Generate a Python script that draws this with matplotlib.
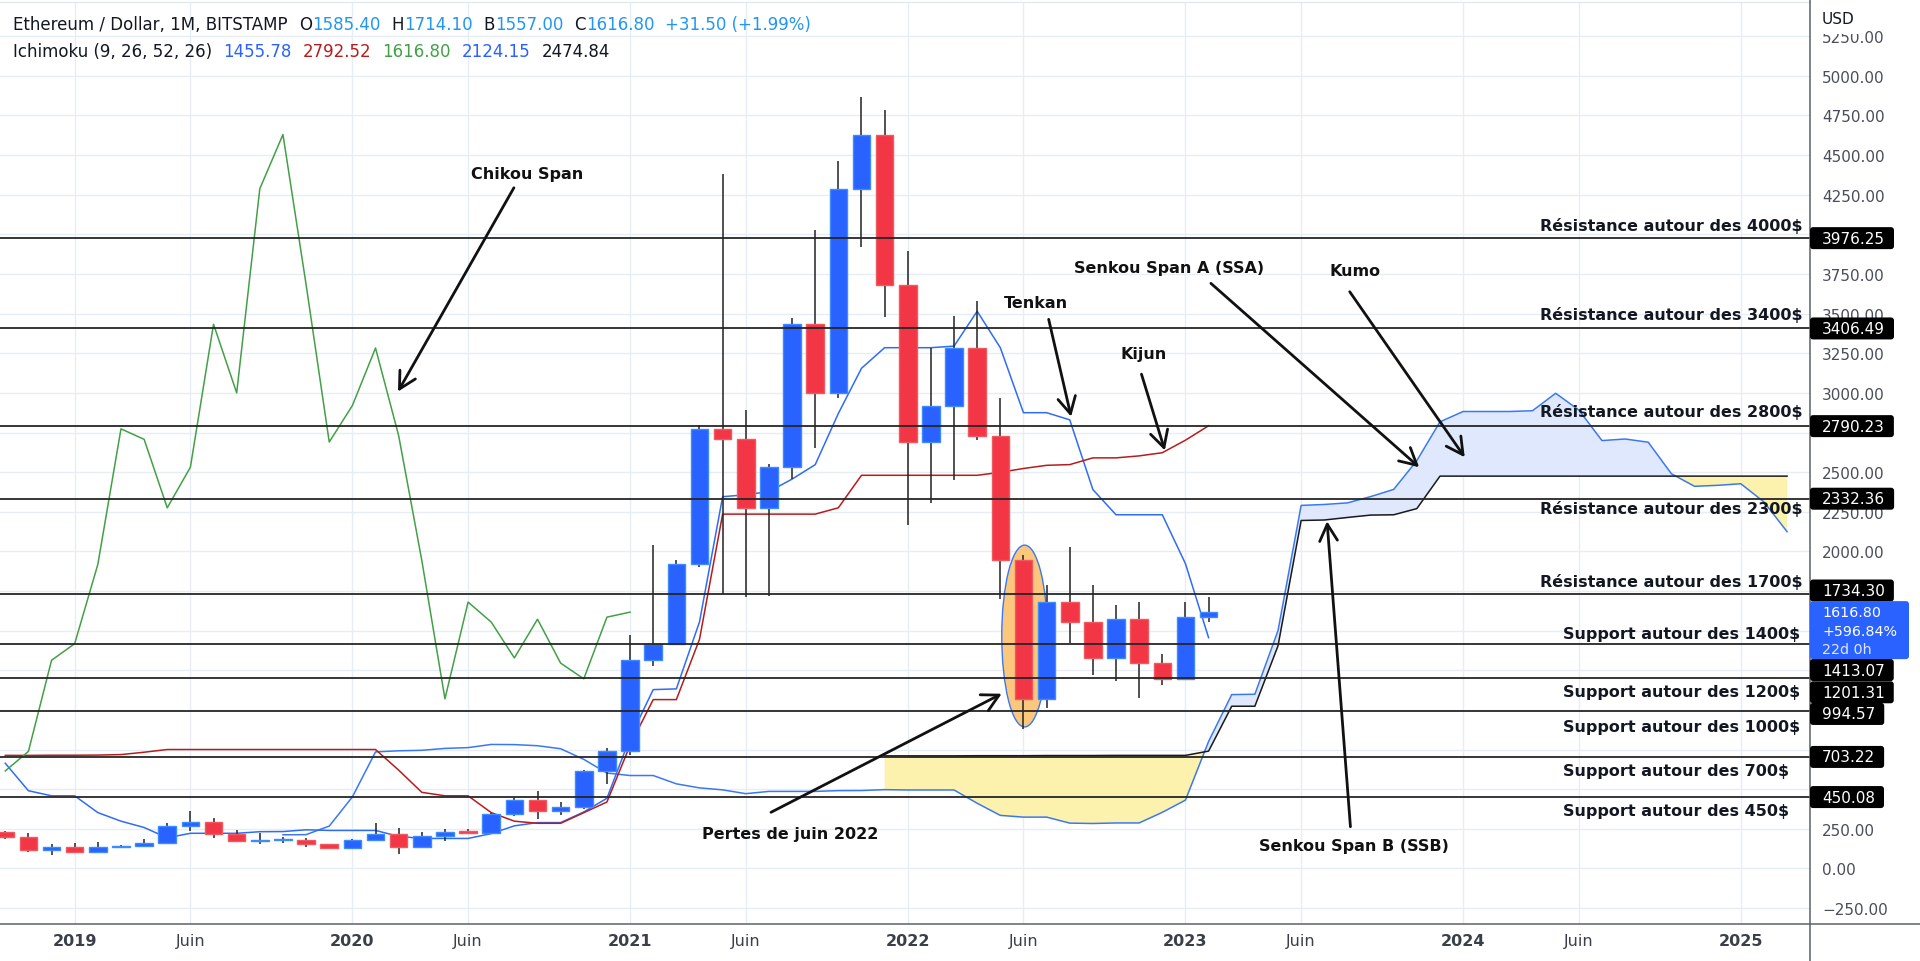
import matplotlib

matplotlib.use("Agg")
import matplotlib.pyplot as plt
import numpy as np
from matplotlib.lines import Line2D
from matplotlib.patches import Ellipse, FancyBboxPatch
from matplotlib.transforms import IdentityTransform

# ---------------------------------------------------------------------------
# Data. x unit = months since Jan 2019 (Oct 2018 = -3).
# ---------------------------------------------------------------------------
CANDLE_START = -3  # Oct 2018 .. Feb 2023, monthly

candle_open = [232, 197, 113, 133, 106, 136, 141, 161, 268, 290, 218, 172, 180, 182, 151,
               130, 180, 218, 133, 206, 231, 226, 345, 434, 360, 386, 615,
               738, 1313, 1418, 1918, 2773, 2707, 2275, 2531, 3433, 3000, 4288, 4630,
               3683, 2690, 2920, 3283, 2730, 1943, 1070, 1680, 1554, 1328, 1572, 1295,
               1196, 1585.4]
candle_high = [237, 224, 155, 160, 165, 150, 185, 287, 362, 318, 240, 224, 200, 192, 152,
               185, 287, 252, 227, 247, 250, 349, 445, 490, 420, 622, 757,
               1475, 2040, 1945, 2800, 4380, 2890, 2550, 3470, 4025, 4460, 4868, 4785,
               3893, 3285, 3485, 3582, 2970, 1975, 1790, 2030, 1790, 1662, 1680, 1352,
               1680, 1714.1]
candle_low = [185, 102, 82, 101, 102, 126, 139, 155, 239, 190, 165, 154, 158, 135, 120,
              127, 178, 91, 128, 176, 216, 222, 332, 310, 335, 375, 534,
              715, 1280, 1440, 1900, 1730, 1715, 1720, 2455, 2655, 2970, 3920, 3480,
              2165, 2305, 2450, 2700, 1700, 880, 1015, 1425, 1220, 1180, 1075, 1160,
              1190, 1557]
candle_close = [197, 113, 133, 106, 136, 141, 161, 268, 290, 218, 172, 180, 182, 151, 130,
                180, 218, 133, 206, 231, 226, 345, 434, 360, 386, 615, 738,
                1313, 1418, 1918, 2773, 2707, 2275, 2531, 3433, 3000, 4288, 4630, 3683,
                2690, 2920, 3283, 2730, 1943, 1070, 1680, 1554, 1328, 1572, 1295, 1196,
                1585, 1616.8]

# Ichimoku lines, same months as the candles
tenkan = [663, 490, 458, 458, 352, 298, 258, 193, 221.5, 221.5, 221.5, 231.5, 232.5,
          243.5, 239.5, 239.5, 239.5, 202, 189, 189, 189, 219.5, 268.5, 289, 289, 356,
          442.5, 824.5, 1128, 1132.5, 1555, 2345, 2357, 2377, 2456, 2547, 2870, 3155,
          3285, 3285, 3285, 3295, 3515, 3285, 2875, 2875, 2830, 2390, 2231, 2231, 2231,
          1922.5, 1455.78]
kijun = [713, 713, 714, 714, 715, 718, 733, 750, 750, 750, 750, 750, 750, 750, 750,
         750, 750, 620, 480, 458, 458, 352, 298, 284.5, 284.5, 351.5, 419, 777, 1065,
         1065, 1445, 2235, 2235, 2235, 2235, 2235, 2275, 2480, 2480, 2480, 2480, 2480,
         2480, 2499, 2523, 2543, 2547.5, 2590, 2590, 2602.5, 2622.5, 2701.5, 2792.52]
CHIKOU_SHIFT = 25  # chikou = close drawn 25 months back

SSA_START = 9  # Oct 2019 .. Mar 2025
senkou_a = [212, 213, 267, 451, 735, 742, 745, 757, 762, 782, 781, 774, 755, 688, 601.5,
            586, 586, 533.5, 508, 495.5, 471.5, 485.75, 485.75, 485.75, 490.75, 491.25,
            496.75, 494.75, 494.75, 494.75, 411, 334.5, 323.5, 323.5, 285.75, 283.25,
            286.75, 286.75, 353.75, 430.75, 800.75, 1096.5, 1098.75, 1500, 2290, 2296,
            2306, 2345.5, 2391, 2572.5, 2817.5, 2882.5, 2882.5, 2882.5, 2887.5, 2997.5,
            2892, 2699, 2709, 2688.75, 2490, 2410.5, 2416.75, 2426.75, 2312, 2124.15]
SSB_START = 35  # Dec 2021 .. Mar 2025
senkou_b = [710, 710, 710, 710, 711, 711, 711, 712, 712, 712, 713, 713, 713, 713, 740,
            1023, 1023, 1404, 2195, 2198, 2214, 2229, 2231, 2270, 2474.84, 2474.84,
            2474.84, 2474.84, 2474.84, 2474.84, 2474.84, 2474.84, 2474.84, 2474.84,
            2474.84, 2474.84, 2474.84, 2474.84, 2474.84, 2474.84]

level_values = [3976.25, 3406.49, 2790.23, 2332.36, 1734.30, 1413.07, 1201.31, 994.57,
                703.22, 450.08]
level_labels = ["Résistance autour des 4000$", "Résistance autour des 3400$",
                "Résistance autour des 2800$", "Résistance autour des 2300$",
                "Résistance autour des 1700$", "Support autour des 1400$",
                "Support autour des 1200$", "Support autour des 1000$",
                "Support autour des 700$", "Support autour des 450$"]

last_price = 1616.80
last_change = "+596.84%"
last_countdown = "22d 0h"

tick_months = [0, 5, 12, 17, 24, 29, 36, 41, 48, 53, 60, 65, 72]
tick_labels = ["2019", "Juin", "2020", "Juin", "2021", "Juin", "2022", "Juin", "2023",
               "Juin", "2024", "Juin", "2025"]
price_ticks = [-250, 0, 250, 500, 750, 1000, 1250, 1500, 1750, 2000, 2250, 2500, 2750,
               3000, 3250, 3500, 3750, 4000, 4250, 4500, 4750, 5000, 5250]
# scale labels covered by the price tags
hidden_ticks = [500, 750, 1000, 1250, 1500, 1750, 2750, 4000]

# ---------------------------------------------------------------------------
# Styling
# ---------------------------------------------------------------------------
UP = "#2962ff"
UP_EDGE = "#3d8bfd"
DOWN = "#f23645"
DOWN_EDGE = "#f0595f"
GRID = "#e6edf5"
TEXT = "#131722"
AXIS_TEXT = "#4a4e5a"
INK = "#111111"

W, H = 1920, 962
fig = plt.figure(figsize=(W / 100, H / 100), dpi=100, facecolor="white")
ax = fig.add_axes([0, 37.5 / H, 1810 / W, 921.5 / H])
ax.set_xlim(-3.228, 74.99)
ax.set_ylim(-347.6, 5466)
ax.set_facecolor("white")

for name, spine in ax.spines.items():
    spine.set_visible(name == "top")
ax.spines["top"].set_color("#dfe6ef")

ax.set_xticks(tick_months)
ax.set_xticklabels(tick_labels)
for lab in ax.get_xticklabels():
    if lab.get_text() != "Juin":
        lab.set_fontweight("bold")
ax.yaxis.tick_right()
ax.set_yticks(price_ticks)
ax.set_yticklabels(["" if v in hidden_ticks else f"{v:.2f}".replace("-", "\u2212")
                    for v in price_ticks])
ax.tick_params(axis="x", length=0, pad=7, labelsize=11.5, labelcolor="#3b3f4a")
ax.tick_params(axis="y", length=0, pad=8.6, labelsize=11, labelcolor=AXIS_TEXT)
ax.grid(True, color=GRID, lw=1)
ax.set_axisbelow(True)

# Kumo
ssa_x = np.arange(SSA_START, SSA_START + len(senkou_a))
ssb_x = np.arange(SSB_START, SSB_START + len(senkou_b))
ssa_part = np.array(senkou_a[SSB_START - SSA_START:])
ssb_arr = np.array(senkou_b)
ax.fill_between(ssb_x, ssa_part, ssb_arr, where=ssa_part >= ssb_arr, interpolate=True,
                color="#dfe8fc", lw=0, zorder=1)
ax.fill_between(ssb_x, ssa_part, ssb_arr, where=ssa_part < ssb_arr, interpolate=True,
                color="#fdf2ad", lw=0, zorder=1)
ax.plot(ssa_x, senkou_a, color="#3a78f2", lw=1.1, zorder=2)
ax.plot(ssb_x, senkou_b, color="#1a1a1a", lw=1.1, zorder=2)

months = np.arange(CANDLE_START, CANDLE_START + len(candle_close))
closes = np.array(candle_close)
ax.plot(months, tenkan, color="#2f6cf6", lw=1.1, zorder=2.5)
ax.plot(months, kijun, color="#b71c1c", lw=1.1, zorder=2.5)
ax.plot(months[CHIKOU_SHIFT:] - CHIKOU_SHIFT, closes[CHIKOU_SHIFT:], color="#43a047",
        lw=1.1, zorder=2.5)

# June 2022 highlight
ax.add_patch(Ellipse((41.05, 1466), 1.975, 1147, facecolor="#fbc77c", edgecolor="#3a78f2",
                     lw=1, zorder=3))

# candles
opens = np.array(candle_open)
rising = closes >= opens
ax.vlines(months, candle_low, candle_high, color="#222222", lw=1.1, zorder=3.5)
bottoms = np.minimum(opens, closes)
heights = np.maximum(np.abs(closes - opens), 7)
ax.bar(months, heights, bottom=bottoms, width=0.76,
       color=[UP if r else DOWN for r in rising],
       edgecolor=[UP_EDGE if r else DOWN_EDGE for r in rising], lw=1, zorder=4)

# horizontal levels and their captions
label_offsets = [13, 14, 15, -9, 13, 11, -14, -16, -14, -13]
for value, label, off in zip(level_values, level_labels, label_offsets):
    ax.axhline(value, color="#262626", lw=1.3, zorder=4.5)
    x_anchor = 63.32 if label.startswith("R") else 64.32
    ax.annotate(label, xy=(x_anchor, value), xytext=(0, off), textcoords="offset pixels",
                ha="left", va="center", fontsize=11.5, fontweight="bold", color=TEXT,
                zorder=6)

# arrows with captions: (text, text pos, arrow start, arrow tip)
callouts = [
    ("Chikou Span", (19.55, 4387), (18.98, 4294), (13.97, 3008)),
    ("Tenkan", (41.52, 3570), (42.09, 3464), (43.06, 2850)),
    ("Kijun", (46.2, 3250), (46.1, 3118), (47.11, 2637)),
    ("Senkou Span A (SSA)", (47.3, 3792), (49.1, 3691), (58.1, 2531)),
    ("Kumo", (55.33, 3771), (55.1, 3638), (60.07, 2594)),
    ("Senkou Span B (SSB)", (55.3, 143), (55.13, 263), (54.12, 2190)),
    ("Pertes de juin 2022", (30.9, 223), (30.09, 354), (40.06, 1102)),
]
for text, tpos, start, tip in callouts:
    ax.text(*tpos, text, ha="center", va="center", fontsize=11.5, fontweight="bold",
            color=INK, zorder=7)
    ax.annotate("", xy=tip, xytext=start,
                arrowprops=dict(arrowstyle="->,head_length=0.6,head_width=0.32",
                                lw=2.0, color=INK, shrinkA=0, shrinkB=0,
                                mutation_scale=20),
                zorder=7)

# frame lines of the price scale / time scale
fig.add_artist(Line2D([1810 / W, 1810 / W], [0, 1], transform=fig.transFigure,
                      color="#5d606b", lw=1.1))
fig.add_artist(Line2D([0, 1], [37.5 / H, 37.5 / H], transform=fig.transFigure,
                      color="#5d606b", lw=1.1))

# header
renderer = fig.canvas.get_renderer()
px = IdentityTransform()


def draw_groups(x, y_top, groups, gap=11, size=12):
    """Lay out groups of coloured pieces left to right."""
    y = H - y_top
    for pieces in groups:
        for text, color in pieces:
            t = fig.text(x, y, text, transform=px, color=color, fontsize=size,
                         ha="left", va="center")
            x = t.get_window_extent(renderer).x1
        x += gap


VAL = "#2196f3"
draw_groups(13.4, 25, [
    [("Ethereum / Dollar, 1M, BITSTAMP", TEXT)],
    [("O", TEXT), ("1585.40", VAL)],
    [("H", TEXT), ("1714.10", VAL)],
    [("B", TEXT), ("1557.00", VAL)],
    [("C", TEXT), ("1616.80", VAL)],
    [("+31.50 (+1.99%)", VAL)],
])
draw_groups(13.4, 51.7, [
    [("Ichimoku (9, 26, 52, 26)", TEXT)],
    [("1455.78", "#2962ff")],
    [("2792.52", "#b71c1c")],
    [("1616.80", "#43a047")],
    [("2124.15", "#2962ff")],
    [("2474.84", TEXT)],
])

fig.text(1822, H - 20, "USD", transform=px, fontsize=11, color=TEXT, ha="left",
         va="center", zorder=12,
         bbox=dict(boxstyle="square,pad=0.5", fc="white", ec="none"))

# price tags on the scale
tag_shifts = [0, 0, 0, 0, -3, 25.6, 14.3, 3.2, 0, 0]
for value, shift in zip(level_values, tag_shifts):
    y = ax.transData.transform((0, value))[1] - shift
    t = fig.text(1822, y, f"{value:.2f}", transform=px, color="white", fontsize=11,
                 ha="left", va="center", zorder=11)
    bb = t.get_window_extent(renderer)
    fig.add_artist(FancyBboxPatch((1810, y - 11), bb.x1 + 9 - 1810, 22,
                                  boxstyle="round,pad=0,rounding_size=3", transform=px,
                                  fc="black", ec="none", zorder=10))

y0 = ax.transData.transform((0, last_price))[1]
fig.add_artist(FancyBboxPatch((1810, y0 - 47), 99, 58,
                              boxstyle="round,pad=0,rounding_size=3", transform=px,
                              fc="#2962ff", ec="none", zorder=10))
for i, (line, color) in enumerate([(f"{last_price:.2f}", "white"),
                                   (last_change, "white"),
                                   (last_countdown, "#dfe6ff")]):
    fig.text(1822, y0 - 18.5 * i, line, transform=px, color=color, fontsize=10.3,
             ha="left", va="center", zorder=11)

fig.savefig("out.png", dpi=100, facecolor="white")
